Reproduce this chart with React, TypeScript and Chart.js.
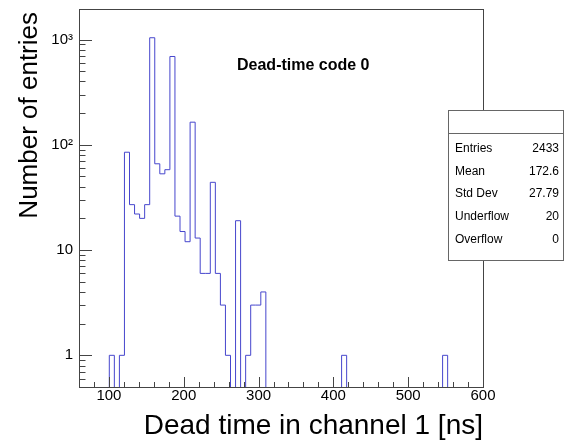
import React, { useEffect, useRef } from "react";
import { Chart, registerables } from "chart.js";

Chart.register(...registerables);

// ---- Histogram definition ----
const X_MIN = 60;
const X_MAX = 600;
const N_BINS = 80;

// bin contents, bin 0 = [60, 66.75), ... bin 79 = [593.25, 600)
const counts = [
  0, 0, 0, 0, 0, 0, 1, 0, 1, 85,
  27, 22, 20, 27, 1040, 66, 53, 58, 690, 21,
  15, 12, 164, 13, 6, 6, 44, 6, 3, 1,
  0, 19, 0, 1, 3, 3, 4, 0, 0, 0,
  0, 0, 0, 0, 0, 0, 0, 0, 0, 0,
  0, 0, 1, 0, 0, 0, 0, 0, 0, 0,
  0, 0, 0, 0, 0, 0, 0, 0, 0, 0,
  0, 0, 1, 0, 0, 0, 0, 0, 0, 0,
];

const Y_MIN = 0.5;
const Y_MAX = 1950;

const xTickValues = [100, 200, 300, 400, 500, 600];
const xTickLabels = ["100", "200", "300", "400", "500", "600"];
const yTickValues = [1, 10, 100, 1000];
const yTickLabels = ["1", "10", "10\u00B2", "10\u00B3"];

const xTitle = "Dead time in channel 1 [ns]";
const yTitle = "Number of entries";
const plotLabel = "Dead-time code 0";

const statsLabels = ["Entries", "Mean", "Std Dev", "Underflow", "Overflow"];
const statsValues = ["2433", "172.6", "27.79", "20", "0"];

const FONT = "'Liberation Sans', Arial, Helvetica, sans-serif";
const LINE_COLOR = "rgb(70, 70, 205)";
const FRAME_COLOR = "#444";

function buildPoints() {
  const w = (X_MAX - X_MIN) / N_BINS;
  const pts: { x: number; y: number }[] = [];
  for (let i = 0; i < N_BINS; i++) {
    const c = counts[i];
    pts.push({ x: X_MIN + i * w, y: c > 0 ? c : 1e-3 });
  }
  const last = counts[N_BINS - 1];
  pts.push({ x: X_MAX, y: last > 0 ? last : 1e-3 });
  return pts;
}

const rootDecor = {
  id: "rootDecor",
  afterDatasetsDraw(chart: any) {
    const ctx = chart.ctx as CanvasRenderingContext2D;
    const xs = chart.scales.x;
    const ys = chart.scales.y;
    const { left, right, top, bottom } = chart.chartArea;
    ctx.save();

    // frame
    ctx.strokeStyle = FRAME_COLOR;
    ctx.lineWidth = 1;
    ctx.strokeRect(left + 0.5, top + 0.5, right - left, bottom - top);

    // x ticks (inside, from bottom)
    ctx.beginPath();
    for (let v = X_MIN; v <= X_MAX; v += 20) {
      const px = Math.round(xs.getPixelForValue(v)) + 0.5;
      const major = v % 100 === 0;
      const len = major ? 10 : 5;
      ctx.moveTo(px, bottom);
      ctx.lineTo(px, bottom - len);
    }
    // y ticks (inside, from left)
    for (let e = -1; e <= 3; e++) {
      for (let m = 1; m <= 9; m++) {
        const v = m * Math.pow(10, e);
        if (v < Y_MIN || v > Y_MAX) continue;
        const py = Math.round(ys.getPixelForValue(v)) + 0.5;
        const len = m === 1 ? 13 : 6.5;
        ctx.moveTo(left, py);
        ctx.lineTo(left + len, py);
      }
    }
    ctx.stroke();

    ctx.fillStyle = "#000";
    // x tick labels
    ctx.font = `15px ${FONT}`;
    ctx.textAlign = "center";
    ctx.textBaseline = "middle";
    xTickValues.forEach((v, i) => {
      ctx.fillText(xTickLabels[i], xs.getPixelForValue(v), bottom + 9);
    });
    // y tick labels
    ctx.textAlign = "right";
    yTickValues.forEach((v, i) => {
      ctx.fillText(yTickLabels[i], left - 6, ys.getPixelForValue(v));
    });

    // x title
    ctx.font = `28px ${FONT}`;
    ctx.textAlign = "right";
    ctx.textBaseline = "alphabetic";
    ctx.fillText(xTitle, right, bottom + 47);

    // y title
    ctx.save();
    ctx.translate(30, top + 3);
    ctx.rotate(-Math.PI / 2);
    ctx.font = `26px ${FONT}`;
    ctx.textAlign = "right";
    ctx.textBaseline = "middle";
    ctx.fillText(yTitle, 0, 0);
    ctx.restore();

    // label in plot
    ctx.font = `bold 16px ${FONT}`;
    ctx.textAlign = "left";
    ctx.textBaseline = "middle";
    ctx.fillText(plotLabel, 237, 66);

    // stats box
    const bx = 448.5, by = 110.5, bw = 115, bh = 150;
    ctx.fillStyle = "#fff";
    ctx.fillRect(bx, by, bw, bh);
    ctx.strokeStyle = "#666";
    ctx.strokeRect(bx, by, bw, bh);
    ctx.beginPath();
    ctx.moveTo(bx, 133.5);
    ctx.lineTo(bx + bw, 133.5);
    ctx.stroke();
    ctx.fillStyle = "#000";
    ctx.font = `12px ${FONT}`;
    ctx.textBaseline = "middle";
    statsLabels.forEach((lab, i) => {
      const y = 148.5 + i * 22.75;
      ctx.textAlign = "left";
      ctx.fillText(lab, 455, y);
      ctx.textAlign = "right";
      ctx.fillText(statsValues[i], 559, y);
    });

    ctx.restore();
  },
};

export default function App() {
  const ref = useRef<HTMLCanvasElement | null>(null);
  useEffect(() => {
    if (!ref.current) return;
    const chart = new Chart(ref.current, {
      type: "line",
      data: {
        datasets: [
          {
            data: buildPoints(),
            stepped: true,
            borderColor: LINE_COLOR,
            borderWidth: 1,
            pointRadius: 0,
            fill: false,
            tension: 0,
          },
        ],
      },
      options: {
        animation: false,
        responsive: false,
        events: [],
        layout: { padding: { left: 79, right: 81, top: 9, bottom: 60 } },
        plugins: { legend: { display: false }, tooltip: { enabled: false }, title: { display: false } },
        scales: {
          x: { type: "linear", min: X_MIN, max: X_MAX, display: false },
          y: { type: "logarithmic", min: Y_MIN, max: Y_MAX, display: false },
        },
      },
      plugins: [rootDecor],
    });
    return () => chart.destroy();
  }, []);
  return (
    <div style={{ position: "fixed", left: 0, top: 0, width: 564, height: 447, background: "#fff" }}>
      <canvas ref={ref} width={564} height={447} style={{ width: 564, height: 447, display: "block" }} />
    </div>
  );
}
